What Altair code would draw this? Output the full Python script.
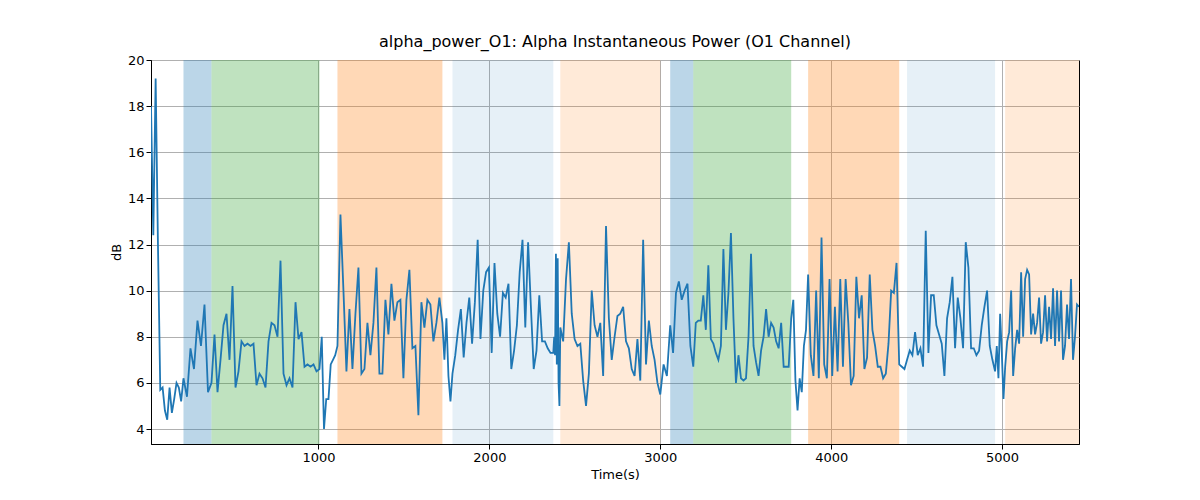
import altair as alt
import pandas as pd
import numpy as np

# shaded bands: (start, end, color, opacity)
band_start = [210, 374, 1111, 1784, 2415, 3058, 3193, 3865, 4444, 5018]
band_end = [374, 1006, 1725, 2374, 3000, 3193, 3766, 4398, 4959, 5450]
band_color = ["#1f77b4", "#2ca02c", "#ff7f0e", "#1f77b4", "#ff7f0e",
              "#1f77b4", "#2ca02c", "#ff7f0e", "#1f77b4", "#ff7f0e"]
band_opacity = [0.3, 0.3, 0.3, 0.11, 0.16, 0.3, 0.3, 0.3, 0.11, 0.16]

# signal segments: (start, end, values)
seg_bounds = [20, 210, 374, 1006, 1111, 1725, 1784, 2374, 2415, 3000, 3058,
              3193, 3766, 3865, 4398, 4444, 4959, 5018, 5450]
seg_values = [
    [18.0, 12.4, 19.2, 12.0, 5.7, 5.8, 4.8, 4.4, 5.8, 4.7, 5.3, 6.0, 5.8, 5.2],
    [6.2, 5.4, 7.5, 6.6, 8.7, 7.6, 9.4, 5.6],
    [6.0, 8.1, 5.6, 7.0, 8.5, 9.0, 7.0, 10.2, 5.8, 6.5, 7.8, 7.6, 7.7, 7.6, 7.7, 5.9, 6.4, 6.2,
     5.8, 7.8, 8.6, 8.5, 8.0, 11.3, 6.4, 5.9, 6.2, 5.8, 9.5, 7.9, 8.2, 6.7, 6.8, 6.7, 6.8, 6.5],
    [6.6, 8.0, 4.0, 5.3, 5.3, 6.8, 7.0, 7.2],
    [7.6, 13.3, 10.0, 6.5, 9.2, 6.6, 9.0, 11.0, 6.4, 6.6, 8.6, 7.2, 8.6, 11.0, 6.4, 6.4, 9.6, 8.1,
     10.3, 8.7, 9.5, 9.6, 6.2, 9.6, 10.9, 7.5, 7.6, 4.6, 9.5, 8.4, 9.6, 9.4, 7.8, 8.6, 9.7],
    [8.6, 7.0, 8.8, 6.3, 5.2],
    [6.4, 7.2, 8.3, 9.2, 7.1, 8.6, 9.7, 7.7, 9.5, 12.2, 7.9, 10.0, 10.8, 11.0, 7.3, 11.2, 9.0, 8.0,
     9.9, 9.7, 10.3, 6.6, 7.4, 8.5, 10.8, 12.2, 8.4, 12.1, 9.3, 6.6, 7.4, 9.8, 7.8, 7.8, 7.5, 7.3],
    [7.3, 8.0, 7.2, 11.6, 6.8, 11.4, 6.0, 5.0],
    [8.4, 7.8, 10.5, 12.1, 9.0, 7.9, 7.6, 7.7, 6.1, 5.0, 6.4, 10.0, 8.5, 8.0, 8.6, 6.3, 12.8, 8.8,
     7.0, 8.0, 8.9, 9.0, 9.3, 7.8, 7.5, 6.6, 6.3, 7.9, 6.1, 12.2, 6.8, 8.7, 7.6, 7.0, 6.0],
    [5.5, 6.8, 6.3],
    [8.5, 7.3, 9.9, 10.4, 9.6, 10.0, 10.3, 7.6],
    [6.7, 8.6, 8.7, 8.7, 9.8, 8.3, 11.1, 7.9, 7.7, 7.3, 7.0, 7.6, 11.8, 8.3, 9.9, 12.5, 8.8, 6.0,
     7.2, 6.2, 6.1, 6.2, 8.0, 11.6, 7.6, 6.9, 6.3, 7.4, 8.0, 9.2, 8.0, 8.6, 8.4, 7.8, 7.5, 8.6,
     6.7, 6.7, 6.7],
    [8.8, 9.6, 6.1, 4.8, 6.2, 5.6, 7.6, 8.3],
    [10.7, 7.2, 6.3, 10.0, 6.2, 12.3, 6.8, 6.2, 10.5, 6.3, 9.3, 6.5, 10.5, 6.7, 10.5, 8.6, 5.9,
     6.3, 10.6, 8.8, 9.8, 6.6, 7.1, 10.7, 8.3, 7.6, 6.7, 6.7, 6.2, 6.4, 7.7, 10.0, 9.9, 11.2],
    [6.8, 6.7, 6.6],
    [7.0, 7.4, 7.2, 8.2, 7.2, 7.5, 6.7, 12.6, 7.3, 9.8, 9.8, 8.5, 8.1, 7.7, 6.3, 8.8, 9.5, 10.6,
     7.5, 9.7, 8.8, 7.5, 12.1, 11.0, 7.5, 7.5, 7.2, 7.4, 8.5, 9.3, 10.0, 7.6, 7.0],
    [6.5, 7.6, 6.2, 9.0, 7.3, 5.3],
    [6.7, 7.8, 8.2, 10.0, 6.3, 7.5, 8.3, 7.7, 10.8, 8.0, 10.5, 10.9, 10.7, 8.1, 9.0, 8.1, 8.6,
     9.7, 7.7, 8.2, 9.8, 7.8, 9.3, 7.9, 10.1, 7.6, 10.0, 7.8, 10.0, 7.0, 7.6, 9.4, 7.9, 10.5,
     7.0, 8.0, 9.4, 9.3],
]

times, vals = [], []
for i, v in enumerate(seg_values):
    t = np.linspace(seg_bounds[i], seg_bounds[i + 1], len(v), endpoint=(i == len(seg_values) - 1))
    times.extend(t)
    vals.extend(v)
line_df = pd.DataFrame({"t": times, "v": vals})

bands_df = pd.DataFrame({"s": band_start, "e": band_end, "c": band_color, "o": band_opacity})

xs = alt.Scale(domain=[20, 5450], nice=False, zero=False)
ys = alt.Scale(domain=[3.35, 20], nice=False, zero=False)

bands = alt.Chart(bands_df).mark_rect().encode(
    x=alt.X("s:Q", scale=xs),
    x2="e:Q",
    y=alt.value(0),
    y2=alt.value(384),
    color=alt.Color("c:N", scale=None),
    opacity=alt.Opacity("o:Q", scale=None),
)

line = alt.Chart(line_df).mark_line(color="#1f77b4", strokeWidth=1.8, clip=True).encode(
    x=alt.X("t:Q", scale=xs, title="Time(s)",
            axis=alt.Axis(values=[1000, 2000, 3000, 4000, 5000], grid=True, format="d")),
    y=alt.Y("v:Q", scale=ys, title="dB",
            axis=alt.Axis(values=list(range(4, 21, 2)), grid=True)),
)

chart = alt.layer(bands, line).properties(
    width=928, height=384,
    title="alpha_power_O1: Alpha Instantaneous Power (O1 Channel)",
    autosize=alt.AutoSizeParams(type="none"),
    padding={"left": 143, "top": 52, "right": 105, "bottom": 50},
).configure_axis(
    gridColor="#b0b0b0", gridOpacity=1, domainColor="#000", tickColor="#000",
    labelColor="#000", titleColor="#000", labelFontSize=13, titleFontSize=13,
    titleFontWeight="normal", labelFont="DejaVu Sans", titleFont="DejaVu Sans",
).configure_title(
    fontSize=16, fontWeight="normal", font="DejaVu Sans", color="#000", offset=4,
).configure_view(stroke="#000", strokeWidth=1)

chart.save("out.html", embed_options={"renderer": "svg", "actions": False})
